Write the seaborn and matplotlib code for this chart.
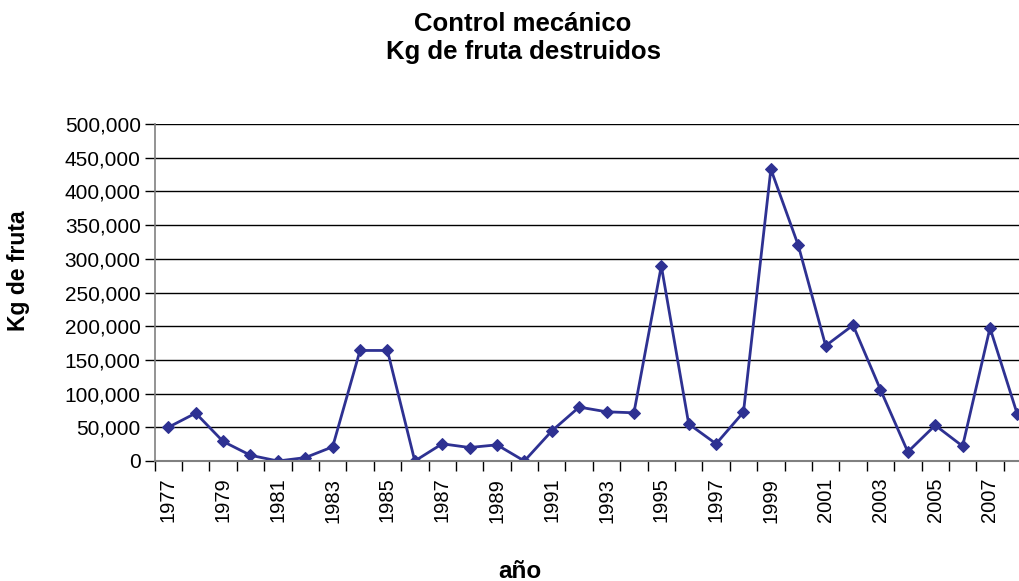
import matplotlib
matplotlib.use("Agg")
import matplotlib.pyplot as plt
import seaborn as sns
import pandas as pd
from matplotlib.ticker import FuncFormatter, MultipleLocator, FixedLocator

years = list(range(1977, 2009))
kg_fruta = [50000, 71000, 29000, 8500, 0, 5000, 21000, 164000, 164000, 0,
            25500, 20000, 24000, 0, 44500, 80000, 73000, 71500, 289500, 55000,
            25500, 72500, 433000, 320000, 171000, 201500, 106000, 13500, 53000, 22000,
            197500, 69000]
title_text = "Control mecánico\nKg de fruta destruidos"
x_label = "año"
y_label = "Kg de fruta"

df = pd.DataFrame({"year": years, "kg": kg_fruta})

sns.set_theme(style="white")
plt.rcParams['font.family'] = ['Liberation Sans', 'DejaVu Sans']
plt.rcParams['text.color'] = 'black'
plt.rcParams['xtick.color'] = 'black'
plt.rcParams['ytick.color'] = 'black'

fig = plt.figure(figsize=(10.19, 5.81), dpi=100)
W, H = 1019, 581
left, right, top, bottom = 154.6, 1019, 124, 461
ax = fig.add_axes([left / W, 1 - bottom / H, (right - left) / W, (bottom - top) / H])

line_color = "#2E3192"
sns.lineplot(data=df, x="year", y="kg", ax=ax, color=line_color, linewidth=2,
             marker="D", markersize=6.5, markeredgecolor=line_color,
             markerfacecolor=line_color)

step = 27.39
ax.set_xlim(1976.5, 1976.5 + (right - left) / step)
ax.set_ylim(0, 500000)

ax.yaxis.set_major_locator(MultipleLocator(50000))
ax.yaxis.set_major_formatter(FuncFormatter(lambda v, p: f"{int(v):,}"))
ax.grid(axis="y", color="black", linewidth=1.0)
ax.grid(axis="x", visible=False)

ax.xaxis.set_major_locator(FixedLocator([y + 0.5 for y in range(1976, 2009)]))
ax.xaxis.set_major_formatter(FuncFormatter(lambda v, p: ""))
ax.xaxis.set_minor_locator(FixedLocator(years[::2]))
ax.xaxis.set_minor_formatter(FuncFormatter(lambda v, p: f"{int(round(v))}"))
ax.tick_params(axis="x", which="major", direction="out", length=7, width=1, color="black", bottom=True)
ax.tick_params(axis="x", which="minor", length=0, labelsize=14.5, labelrotation=90, pad=12,
               bottom=True, labelcolor="black")
ax.tick_params(axis="y", which="major", direction="out", length=7, width=1, color="black",
               labelsize=15, pad=3, left=True, labelcolor="black")

for s in ["top", "right"]:
    ax.spines[s].set_visible(False)
ax.spines["left"].set_color("#808080")
ax.spines["bottom"].set_color("#808080")
ax.spines["left"].set_linewidth(1.2)
ax.spines["bottom"].set_linewidth(1.5)

ax.set_xlabel("")
ax.set_ylabel("")
fig.text(523 / W, 1 - 38 / H, title_text, ha="center", va="center",
         fontsize=18.5, fontweight="bold", linespacing=1.25, color="black")
fig.text(19 / W, 1 - 271 / H, y_label, rotation=90, ha="center", va="center",
         fontsize=16.5, fontweight="bold", color="black")
fig.text(520 / W, 1 - 571 / H, x_label, ha="center", va="center",
         fontsize=17.5, fontweight="bold", color="black")

fig.savefig("out.png", dpi=100)
